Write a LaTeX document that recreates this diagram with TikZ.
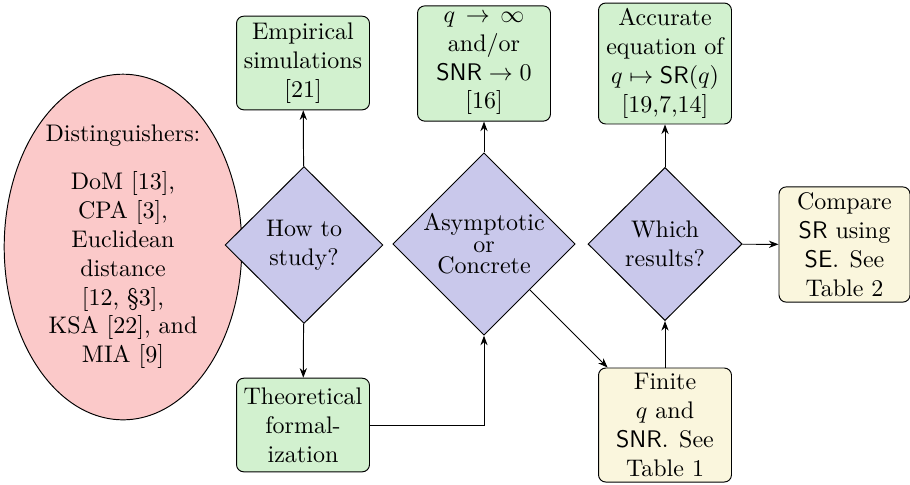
\documentclass[tikz,border=0pt]{standalone}
\usetikzlibrary{shapes.geometric,arrows.meta}
\definecolor{ellfill}{RGB}{251,201,201}
\definecolor{diafill}{RGB}{201,200,235}
\definecolor{grnfill}{RGB}{210,241,207}
\definecolor{ylwfill}{RGB}{250,246,221}
\begin{document}
\begin{tikzpicture}[x=0.41667pt,y=-0.41667pt,
  every node/.style={align=center,font=\normalsize},
  greenbox/.style={draw,rounded corners=3pt,fill=grnfill,minimum width=55.4pt,inner sep=1.5pt,line width=0.4pt},
  yellowbox/.style={draw,rounded corners=3pt,fill=ylwfill,minimum width=55.4pt,inner sep=1.5pt,line width=0.4pt},
  decision/.style={draw,shape=diamond,fill=diafill,inner sep=0pt,line width=0.4pt},
  conn/.style={-{Stealth[length=4pt,width=3pt]},line width=0.4pt}]
\useasboundingbox (0,0) rectangle (910,484);
\node[draw,ellipse,fill=ellfill,minimum width=99pt,minimum height=144pt,inner sep=0pt] (dist) at (123,247)
  {Distinguishers:\\[8pt]DoM {[13]},\\CPA {[3]},\\Euclidean\\distance\\{[12, \S3]},\\KSA {[22]}, and\\MIA {[9]}};
\node[decision,minimum width=65.8pt,minimum height=65.4pt] (how) at (304,245) {How to\\study?};
\node[greenbox,minimum height=39pt] (emp) at (303,63) {Empirical\\simulations\\{[21]}};
\node[greenbox,minimum height=39pt] (theo) at (303,425) {Theoretical\\formal-\\ization};
\node[decision,minimum width=75pt,minimum height=74.6pt] (asym) at (484,244) {Asymptotic\\[-3pt]or\\[-3pt]Concrete};
\node[greenbox,minimum height=48pt] (qbox) at (484,63.5) {$q\,\to\,\infty$\\and/or\\$\mathsf{SNR}\to 0$\\{[16]}};
\node[decision,minimum width=64.2pt,minimum height=63.8pt] (which) at (665,244) {Which\\results?};
\node[greenbox,minimum height=50.4pt] (acc) at (665,63.5) {Accurate\\equation of\\$q\mapsto\mathsf{SR}(q)$\\{[19,7,14]}};
\node[yellowbox,minimum height=47.5pt] (finite) at (665,425) {Finite\\$q$ and\\$\mathsf{SNR}$. See\\Table 1};
\node[yellowbox,minimum width=54.6pt,minimum height=48pt] (compare) at (844.5,244.5) {Compare\\$\mathsf{SR}$ using\\$\mathsf{SE}$. See\\Table 2};
\draw[conn] (how) -- (emp);
\draw[conn] (how) -- (theo);
\draw[conn] (theo.east) -| (asym.south);
\draw[conn] (asym) -- (qbox);
\draw[conn] (asym) -- (finite);
\draw[conn] (finite) -- (which);
\draw[conn] (which) -- (acc);
\draw[conn] (which) -- (compare);
\end{tikzpicture}
\end{document}
